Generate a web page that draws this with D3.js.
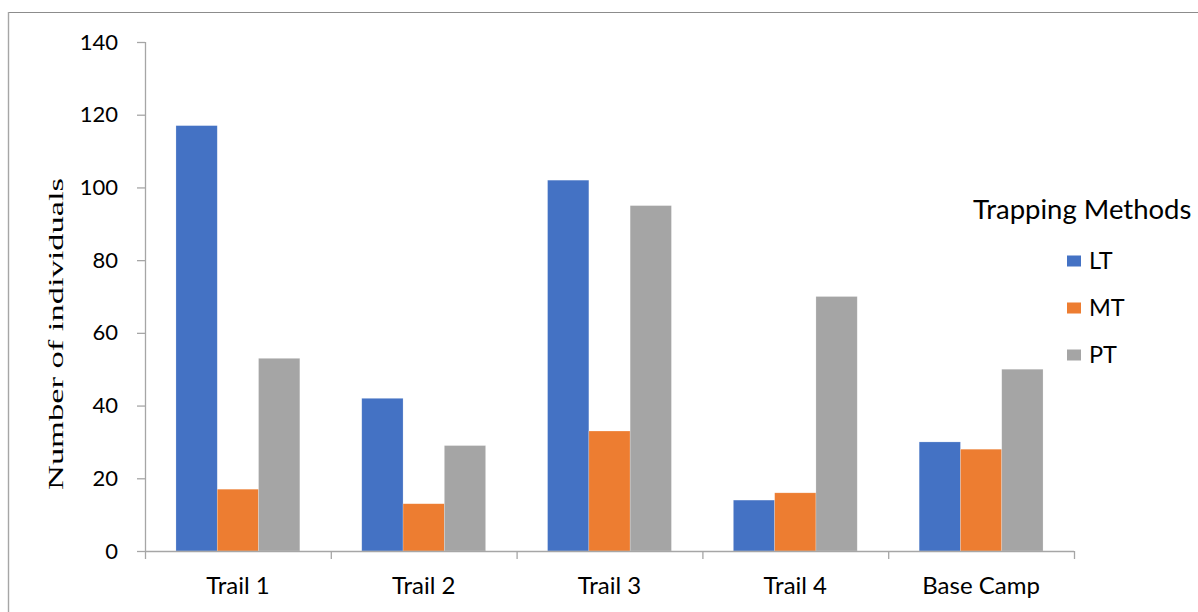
<!DOCTYPE html>
<html>
<head>
<meta charset="utf-8">
<script src="https://cdn.jsdelivr.net/npm/d3@7"></script>
<style>
  html, body { margin: 0; padding: 0; background: #fff; }
  svg { display: block; }
</style>
</head>
<body>
<svg id="chart" width="1198" height="612"></svg>
<script>
// Trap catches per site and method
const categories = ["Trail 1", "Trail 2", "Trail 3", "Trail 4", "Base Camp"];
const seriesNames = ["LT", "MT", "PT"];
const ltValues = [117, 42, 102, 14, 30];
const mtValues = [17, 13, 33, 16, 28];
const ptValues = [53, 29, 95, 70, 50];
const yTicks = [0, 20, 40, 60, 80, 100, 120, 140];
const colors = ["#4472C4", "#ED7D31", "#A5A5A5"];

const seriesValues = [ltValues, mtValues, ptValues];
const rows = categories.map((c, i) => ({
  category: c,
  values: seriesNames.map((s, j) => ({ series: s, value: seriesValues[j][i] }))
}));

const svg = d3.select("#chart");
const plot = { left: 145, right: 1074, top: 42, bottom: 551 };
const labelFont = "Lato, 'Open Sans', sans-serif";

// chart frame (top and left edges)
svg.append("line").attr("x1", 8).attr("x2", 1198).attr("y1", 12.5).attr("y2", 12.5)
  .attr("stroke", "#8c8c8c").attr("stroke-width", 1.2);
svg.append("line").attr("x1", 8.5).attr("x2", 8.5).attr("y1", 12).attr("y2", 612)
  .attr("stroke", "#a6a6a6").attr("stroke-width", 1.4);

const x = d3.scaleBand().domain(categories).range([plot.left, plot.right]).padding(0);
const xs = d3.scaleBand().domain(seriesNames).range([0, x.bandwidth()])
  .paddingInner(0).paddingOuter(0.75);
const y = d3.scaleLinear().domain([0, 140]).range([plot.bottom, plot.top]);
const color = d3.scaleOrdinal().domain(seriesNames).range(colors);

// bars
const groups = svg.append("g").selectAll("g").data(rows).join("g")
  .attr("transform", d => `translate(${x(d.category)},0)`);
groups.selectAll("rect").data(d => d.values).join("rect")
  .attr("x", d => xs(d.series))
  .attr("width", xs.bandwidth())
  .attr("y", d => y(d.value))
  .attr("height", d => y(0) - y(d.value))
  .attr("fill", d => color(d.series))
  .attr("stroke", "#ffffff").attr("stroke-opacity", 0.35).attr("stroke-width", 0.6);

// y axis
const yAxis = svg.append("g").attr("transform", `translate(${plot.left},0)`)
  .call(d3.axisLeft(y).tickValues(yTicks).tickSize(8).tickPadding(19).tickFormat(d3.format("d")));
yAxis.select(".domain").attr("stroke", "#a6a6a6").attr("stroke-width", 1.3)
  .attr("d", `M0.5,${plot.top}V${plot.bottom}`);
yAxis.selectAll(".tick line").attr("stroke", "#a6a6a6").attr("stroke-width", 1.3);
yAxis.selectAll(".tick text").attr("font-family", labelFont).attr("font-size", 22)
  .attr("fill", "#000");

// x axis
const xAxis = svg.append("g").attr("transform", `translate(0,${plot.bottom})`)
  .call(d3.axisBottom(x).tickSize(0).tickPadding(26));
xAxis.select(".domain").remove();
xAxis.append("line").attr("x1", plot.left).attr("x2", plot.right).attr("y1", 0.5).attr("y2", 0.5)
  .attr("stroke", "#a6a6a6").attr("stroke-width", 1.3);
xAxis.selectAll(".bound").data(categories.map(c => x(c)).concat([plot.right])).join("line")
  .attr("class", "bound")
  .attr("x1", d => d + 0.5).attr("x2", d => d + 0.5).attr("y1", 0).attr("y2", 8)
  .attr("stroke", "#a6a6a6").attr("stroke-width", 1.3);
xAxis.selectAll(".tick text").attr("font-family", labelFont).attr("font-size", 24)
  .attr("fill", "#000");

// y axis title
svg.append("text")
  .attr("transform", "translate(63,334) rotate(-90)")
  .attr("text-anchor", "middle")
  .attr("font-family", "'Liberation Serif', 'Times New Roman', serif")
  .attr("font-size", 21)
  .attr("textLength", 312).attr("lengthAdjust", "spacingAndGlyphs")
  .attr("fill", "#000")
  .text("Number of individuals");

// legend
const legend = svg.append("g");
legend.append("text").attr("x", 973).attr("y", 219)
  .attr("font-family", labelFont).attr("font-size", 27.5).attr("fill", "#000")
  .text("Trapping Methods");
const items = legend.selectAll(".item").data(seriesNames).join("g")
  .attr("class", "item")
  .attr("transform", (d, i) => `translate(1067,${261 + i * 47})`);
items.append("rect").attr("x", 0).attr("y", -5.5).attr("width", 14).attr("height", 11)
  .attr("fill", d => color(d));
items.append("text").attr("x", 22).attr("y", 0).attr("dy", "0.36em")
  .attr("font-family", labelFont).attr("font-size", 23.5).attr("fill", "#000")
  .text(d => d);
</script>
</body>
</html>
